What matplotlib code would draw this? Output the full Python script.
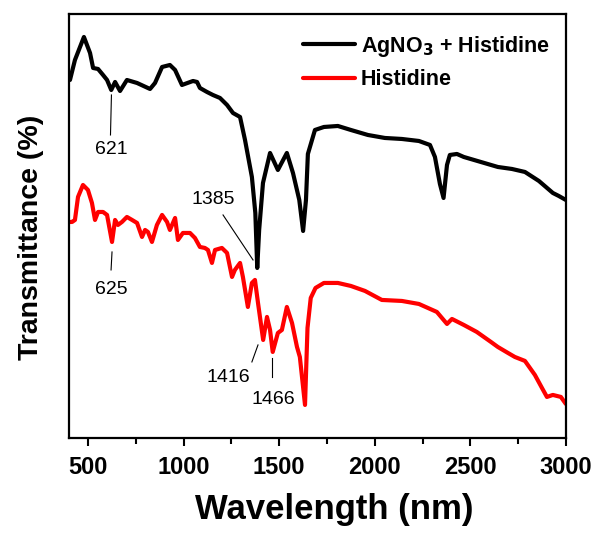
import numpy as np
import matplotlib.pyplot as plt
from matplotlib.ticker import MultipleLocator

plt.rcParams['font.family'] = ['Liberation Sans', 'DejaVu Sans']

# AgNO3 + Histidine (black)
wl_ag = [405, 431, 478, 510, 526, 552, 578, 599, 621, 641, 667, 703, 756, 824, 850,
         887, 928, 955, 991, 1049, 1070, 1085, 1122, 1153, 1190, 1227, 1258, 1295,
         1321, 1357, 1375, 1385, 1395, 1415, 1452, 1493, 1540, 1572, 1605, 1625,
         1640, 1650, 1687, 1734, 1807, 1875, 1964, 2053, 2142, 2231, 2289, 2315,
         2341, 2360, 2378, 2393, 2430, 2466, 2555, 2644, 2718, 2786, 2859, 2932,
         2963, 3000]
t_ag = [358, 378, 401, 385, 370, 369, 363, 358, 348, 356, 347, 358, 355, 349, 355,
        371, 373, 368, 353, 357, 356, 350, 346, 343, 340, 333, 325, 321,
        298, 261, 225, 170, 208, 255, 285, 268, 285, 265, 238, 207,
        238, 284, 308, 311, 312, 308, 303, 300, 299, 297, 293, 281,
        254, 240, 273, 283, 284, 281, 276, 271, 269, 266, 257, 245,
        242, 238]

# Histidine (red)
wl_his = [405, 416, 431, 447, 473, 499, 520, 536, 552, 578, 599, 625, 641, 656, 677,
          703, 730, 756, 782, 798, 813, 834, 860, 887, 913, 928, 955, 970, 996,
          1033, 1059, 1085, 1111, 1127, 1148, 1164, 1200, 1227, 1253, 1268, 1295,
          1310, 1336, 1357, 1373, 1389, 1416, 1436, 1452, 1466, 1493, 1514, 1540,
          1567, 1593, 1608, 1635, 1648, 1665, 1690, 1734, 1807, 1875, 1949, 2037,
          2142, 2231, 2325, 2378, 2404, 2466, 2534, 2608, 2644, 2697, 2733, 2786,
          2838, 2875, 2901, 2932, 2974, 3000]
t_his = [216, 216, 218, 241, 253, 248, 235, 218, 226, 226, 223, 196, 218, 213, 216,
         221, 218, 215, 201, 208, 206, 196, 213, 223, 216, 208, 220, 198, 205,
         205, 200, 191, 190, 188, 175, 188, 190, 185, 161, 168, 175,
         161, 131, 155, 158, 135, 98, 121, 108, 86, 105, 108, 131,
         115, 91, 81, 33, 110, 140, 150, 155, 155, 152, 147, 138,
         137, 134, 126, 114, 119, 113, 106, 96, 91, 85, 81, 77,
         63, 50, 41, 43, 41, 34]

# peak labels: text, text position, leader line start/end
peaks = [
    ("621", (622, 288), (622, 343), (617, 303)),
    ("1385", (1153, 238), (1206, 223), (1363, 178)),
    ("625", (620, 148), (625, 186), (620, 168)),
    ("1416", (1232, 60), (1357, 76), (1389, 93)),
    ("1466", (1467, 38), (1462, 80), (1462, 61)),
]

fig = plt.figure(figsize=(5.95, 5.38), dpi=100)
ax = fig.add_axes([0.116, 0.186, 0.835, 0.788])

line_kw = dict(lw=3, solid_joinstyle='round', solid_capstyle='round')
ax.plot(wl_ag, t_ag, color='black', label='AgNO$_\\mathbf{3}$ + Histidine', **line_kw)
ax.plot(wl_his, t_his, color='red', label='Histidine', **line_kw)

for txt, tp, p0, p1 in peaks:
    ax.plot([p0[0], p1[0]], [p0[1], p1[1]], color='black', lw=0.8)
    ax.text(tp[0], tp[1], txt, fontsize=14, ha='center', va='center')

ax.set_xlim(400, 3000)
ax.set_ylim(0, 424)
ax.xaxis.set_major_locator(MultipleLocator(500))
ax.xaxis.set_minor_locator(MultipleLocator(250))
ax.tick_params(axis='x', which='major', direction='out', length=6, width=1.5,
               labelsize=17, pad=7)
ax.tick_params(axis='x', which='minor', direction='out', length=4, width=1.5)
ax.set_yticks([])
for lbl in ax.get_xticklabels():
    lbl.set_fontweight('bold')
for s in ax.spines.values():
    s.set_linewidth(1.6)

ax.set_xlabel('Wavelength (nm)', fontsize=25, fontweight='bold', labelpad=10)
ax.xaxis.label.set_x(0.533)
ax.set_ylabel('Transmittance (%)', fontsize=20.5, fontweight='bold', labelpad=18)
ax.yaxis.label.set_y(0.474)

ax.legend(loc='upper right', frameon=False, handlelength=2.4, handletextpad=0.3,
          labelspacing=0.5, prop={'weight': 'bold', 'size': 15.5},
          bbox_to_anchor=(0.985, 0.974), borderaxespad=0)

plt.savefig('out.png', dpi=100)
